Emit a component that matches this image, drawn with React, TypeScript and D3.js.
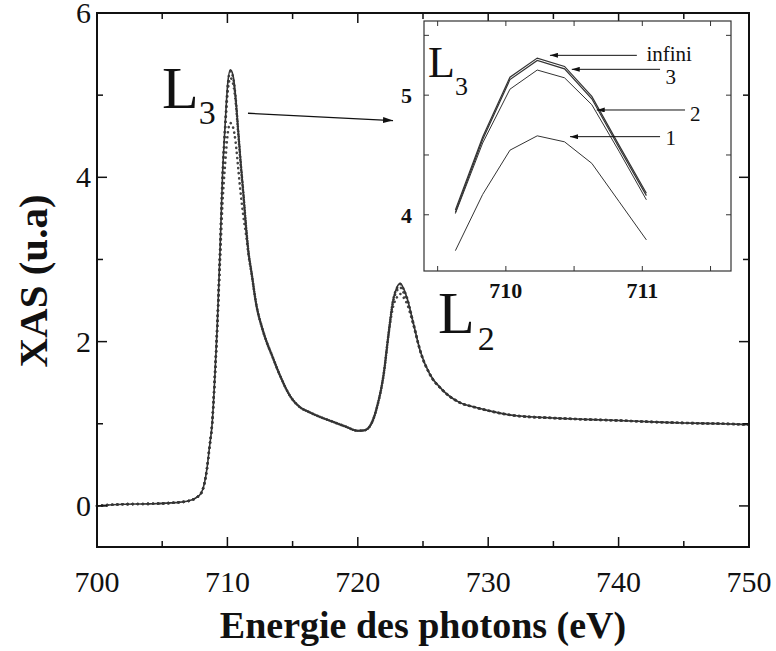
import React from 'react';
import * as d3 from 'd3';

// Photon energy grid (eV)
const energies = [700, 702, 704, 706, 707, 707.5, 708, 708.23, 708.43, 708.63, 708.83, 709.03, 709.23, 709.43, 709.63, 709.83, 710.03, 710.23, 710.43, 710.63, 710.83, 711.03, 711.23, 711.43, 711.63, 711.83, 712.25, 712.6, 713, 713.4, 714, 714.8, 715.5, 716.3, 717, 718, 719, 720, 720.5, 721, 721.5, 722, 722.35, 722.7, 723, 723.25, 723.5, 723.8, 724.25, 724.8, 725.5, 726.5, 727.8, 729, 730, 732, 735, 738, 740, 743, 745, 748, 750];

// XAS (u.a) — "infini" (solid)
const xasInfini = [0.0, 0.02, 0.025, 0.04, 0.06, 0.09, 0.16, 0.27, 0.45, 0.72, 1.0, 1.55, 2.22, 3.08, 4.04, 4.65, 5.15, 5.31, 5.24, 4.99, 4.58, 4.18, 3.8, 3.4, 3.07, 2.86, 2.42, 2.2, 2.0, 1.84, 1.6, 1.34, 1.21, 1.14, 1.09, 1.03, 0.97, 0.915, 0.92, 0.99, 1.22, 1.62, 2.08, 2.5, 2.66, 2.71, 2.65, 2.52, 2.23, 1.88, 1.61, 1.41, 1.26, 1.2, 1.16, 1.1, 1.07, 1.05, 1.04, 1.02, 1.01, 1.0, 0.99];
// series "3"
const xas3 = [0.0, 0.02, 0.025, 0.04, 0.06, 0.09, 0.16, 0.27, 0.45, 0.72, 1.0, 1.55, 2.22, 3.08, 4.02, 4.63, 5.13, 5.29, 5.22, 4.97, 4.56, 4.16, 3.8, 3.4, 3.07, 2.86, 2.42, 2.2, 2.0, 1.84, 1.6, 1.34, 1.21, 1.14, 1.09, 1.03, 0.97, 0.915, 0.92, 0.99, 1.22, 1.62, 2.08, 2.5, 2.65, 2.7, 2.64, 2.52, 2.23, 1.88, 1.61, 1.41, 1.26, 1.2, 1.16, 1.1, 1.07, 1.05, 1.04, 1.02, 1.01, 1.0, 0.99];
// series "2"
const xas2 = [0.0, 0.02, 0.025, 0.04, 0.06, 0.09, 0.16, 0.27, 0.45, 0.72, 1.0, 1.55, 2.22, 3.07, 4.01, 4.6, 5.05, 5.21, 5.145, 4.92, 4.53, 4.125, 3.78, 3.4, 3.07, 2.86, 2.42, 2.2, 2.0, 1.84, 1.6, 1.34, 1.21, 1.14, 1.09, 1.03, 0.97, 0.915, 0.92, 0.99, 1.22, 1.62, 2.08, 2.48, 2.62, 2.66, 2.6, 2.49, 2.23, 1.88, 1.61, 1.41, 1.26, 1.2, 1.16, 1.1, 1.07, 1.05, 1.04, 1.02, 1.01, 1.0, 0.99];
// series "1"
const xas1 = [0.0, 0.02, 0.025, 0.04, 0.06, 0.09, 0.16, 0.27, 0.45, 0.72, 1.0, 1.55, 2.2, 2.95, 3.7, 4.17, 4.54, 4.66, 4.61, 4.43, 4.11, 3.79, 3.52, 3.3, 3.04, 2.85, 2.42, 2.2, 2.0, 1.84, 1.6, 1.34, 1.21, 1.14, 1.09, 1.03, 0.97, 0.915, 0.92, 0.99, 1.22, 1.62, 2.08, 2.42, 2.54, 2.58, 2.54, 2.45, 2.21, 1.88, 1.61, 1.41, 1.26, 1.2, 1.16, 1.1, 1.07, 1.05, 1.04, 1.02, 1.01, 1.0, 0.99];

const xTicks = [700, 710, 720, 730, 740, 750];
const xMinorTicks = [705, 715, 725, 735, 745];
const yTicks = [0, 2, 4, 6];
const yMinorTicks = [1, 3, 5];
const insetXTicks = [710, 711];
const insetXMinorTicks = [709.5, 710.5, 711.5];
const insetYTicks = [4, 5];
const insetYMinorTicks = [4.5, 5.5];
const insetLabels = ['infini', '3', '2', '1'];
const insetRange = [709.6, 711.05];

const SERIF = '"Liberation Serif", "Times New Roman", Times, serif';

export default function App() {
  const W = 776, H = 651;
  const x = d3.scaleLinear().domain([700, 750]).range([97, 749]);
  const y = d3.scaleLinear().domain([-0.5, 6]).range([547, 13]);
  const [x0, x1] = x.range();
  const [y0, y1] = y.range();

  const mainLine = (vals: number[]) =>
    d3.line<number>().x((_, i) => x(energies[i])).y((d) => y(d)).curve(d3.curveMonotoneX)(vals) || '';

  // inset
  const ix = d3.scaleLinear().domain([709.4, 711.65]).range([424, 731]);
  const iy = d3.scaleLinear().domain([3.53, 5.62]).range([271, 21]);
  const [ix0, ix1] = ix.range();
  const [iy0, iy1] = iy.range();
  const idx = energies.map((_, i) => i).filter((i) => energies[i] >= insetRange[0] && energies[i] <= insetRange[1]);
  const insetLine = (vals: number[]) =>
    d3.line<number>().x((i) => ix(energies[i])).y((i) => iy(vals[i]))(idx) || '';

  const insetArrows = [
    { from: [710.96, 5.333], to: [710.323, 5.333], tx: 711.03, ty: 5.285 },
    { from: [711.13, 5.216], to: [710.483, 5.216], tx: 711.17, ty: 5.09 },
    { from: [711.313, 4.876], to: [710.666, 4.876], tx: 711.35, ty: 4.78 },
    { from: [711.13, 4.653], to: [710.47, 4.653], tx: 711.17, ty: 4.58 },
  ];

  const axisColor = '#111';

  return (
    <svg width={W} height={H} style={{ position: 'absolute', left: 0, top: 0, background: '#fff', fontFamily: SERIF }}>
      <defs>
        <marker id="arrMain" viewBox="0 0 10 6" refX="10" refY="3" markerWidth="10" markerHeight="6" markerUnits="userSpaceOnUse" orient="auto">
          <path d="M0,0 L10,3 L0,6 Z" fill="#111" />
        </marker>
        <marker id="arrInset" viewBox="0 0 8 5" refX="8" refY="2.5" markerWidth="8" markerHeight="5" markerUnits="userSpaceOnUse" orient="auto">
          <path d="M0,0 L8,2.5 L0,5 Z" fill="#111" />
        </marker>
      </defs>

      {/* main curves */}
      <g fill="none">
        {[xas1, xas2, xas3].map((s, k) => (
          <path key={k} d={mainLine(s)} stroke="#444" strokeWidth={2.6} strokeDasharray="0.1 5" strokeLinecap="round" />
        ))}
        <path d={mainLine(xasInfini)} stroke="#333" strokeWidth={1.6} />
      </g>

      {/* main frame & ticks */}
      <rect x={x0} y={y1} width={x1 - x0} height={y0 - y1} fill="none" stroke={axisColor} strokeWidth={2} />
      <g stroke={axisColor} strokeWidth={1.5}>
        {xTicks.map((t) => (
          <g key={'xt' + t}>
            <line x1={x(t)} x2={x(t)} y1={y0} y2={y0 - 10} />
            <line x1={x(t)} x2={x(t)} y1={y1} y2={y1 + 10} />
          </g>
        ))}
        {xMinorTicks.map((t) => (
          <g key={'xm' + t}>
            <line x1={x(t)} x2={x(t)} y1={y0} y2={y0 - 6} />
            <line x1={x(t)} x2={x(t)} y1={y1} y2={y1 + 6} />
          </g>
        ))}
        {yTicks.map((t) => (
          <g key={'yt' + t}>
            <line x1={x0} x2={x0 + 10} y1={y(t)} y2={y(t)} />
            <line x1={x1} x2={x1 - 10} y1={y(t)} y2={y(t)} />
          </g>
        ))}
        {yMinorTicks.map((t) => (
          <g key={'ym' + t}>
            <line x1={x0} x2={x0 + 6} y1={y(t)} y2={y(t)} />
            <line x1={x1} x2={x1 - 6} y1={y(t)} y2={y(t)} />
          </g>
        ))}
      </g>
      <g fontSize={30} fill="#111" style={{ fontFamily: SERIF }}>
        {xTicks.map((t) => (
          <text key={'xl' + t} x={x(t)} y={592} textAnchor="middle">{t}</text>
        ))}
        {yTicks.map((t) => (
          <text key={'yl' + t} x={91} y={y(t) + 10} textAnchor="end">{t}</text>
        ))}
      </g>
      <text x={423} y={638} textAnchor="middle" fontSize={38} fontWeight="bold" fill="#111" style={{ fontFamily: SERIF }}>Energie des photons (eV)</text>
      <text transform={`translate(47,281) rotate(-90)`} textAnchor="middle" fontSize={41} fontWeight="bold" fill="#111" style={{ fontFamily: SERIF }}>XAS (u.a)</text>

      {/* peak labels */}
      <text x={162} y={108} fontSize={60} fill="#111" style={{ fontFamily: SERIF }}>L<tspan fontSize={34} dy={16}>3</tspan></text>
      <text x={438} y={333} fontSize={60} fill="#111" style={{ fontFamily: SERIF }}>L<tspan fontSize={34} dx={3} dy={17}>2</tspan></text>
      <line x1={x(711.58)} y1={y(4.78)} x2={x(722.7)} y2={y(4.69)} stroke="#111" strokeWidth={1.3} markerEnd="url(#arrMain)" />

      {/* inset */}
      <rect x={ix0} y={iy1} width={ix1 - ix0} height={iy0 - iy1} fill="#fff" stroke="#333" strokeWidth={1.2} />
      <g stroke="#333" strokeWidth={1}>
        {[...insetXTicks, ...insetXMinorTicks].map((t) => (
          <g key={'ixt' + t}>
            <line x1={ix(t)} x2={ix(t)} y1={iy0} y2={iy0 - 5} />
            <line x1={ix(t)} x2={ix(t)} y1={iy1} y2={iy1 + 5} />
          </g>
        ))}
        {[...insetYTicks, ...insetYMinorTicks].map((t) => (
          <g key={'iyt' + t}>
            <line x1={ix0} x2={ix0 + 5} y1={iy(t)} y2={iy(t)} />
            <line x1={ix1} x2={ix1 - 5} y1={iy(t)} y2={iy(t)} />
          </g>
        ))}
      </g>
      <g fontSize={22} fontWeight="bold" fill="#111" style={{ fontFamily: SERIF }}>
        {insetXTicks.map((t) => (
          <text key={'ixl' + t} x={ix(t)} y={298} textAnchor="middle">{t}</text>
        ))}
        {insetYTicks.map((t) => (
          <text key={'iyl' + t} x={412} y={iy(t) + 8} textAnchor="end">{t}</text>
        ))}
      </g>
      <g fill="none" stroke="#333">
        <path d={insetLine(xas1)} strokeWidth={1} />
        <path d={insetLine(xas2)} strokeWidth={1} />
        <path d={insetLine(xas3)} strokeWidth={1.2} />
        <path d={insetLine(xasInfini)} strokeWidth={1.2} />
      </g>
      <text x={428} y={77} fontSize={44} fill="#111" style={{ fontFamily: SERIF }}>L<tspan fontSize={26} dy={18}>3</tspan></text>
      {insetArrows.map((a, k) => (
        <g key={'ia' + k}>
          <line x1={ix(a.from[0])} y1={iy(a.from[1])} x2={ix(a.to[0])} y2={iy(a.to[1])} stroke="#111" strokeWidth={1} markerEnd="url(#arrInset)" />
          <text x={ix(a.tx)} y={iy(a.ty)} fontSize={21} fill="#111" style={{ fontFamily: SERIF }}>{insetLabels[k]}</text>
        </g>
      ))}
    </svg>
  );
}
